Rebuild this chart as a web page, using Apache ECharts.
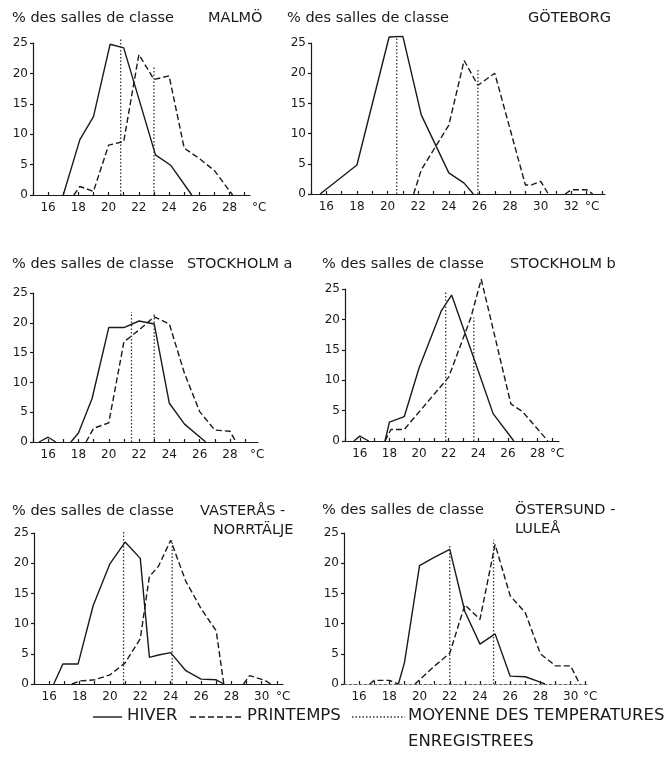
<!DOCTYPE html>
<html><head><meta charset="utf-8">
<script src="https://cdn.jsdelivr.net/npm/echarts/dist/echarts.min.js"></script>
<style>html,body{margin:0;padding:0;background:#fff}#c{width:667px;height:771px}</style>
</head><body><div id="c"></div>
<script>
// ---- DATA: [temperature °C, % des salles de classe] ----
const malmoHiver = [[17.0,0],[18.1,9.1],[19.0,12.9],[20.1,24.8],[21.0,24.2],[23.1,6.6],[24.1,4.9],[25.5,0]];
const malmoPrint = [[17.7,0],[18.1,1.4],[19.0,0.6],[20.0,8.2],[21.0,8.8],[22.0,23.1],[23.0,19.0],[24.0,19.6],[25.0,7.7],[26.0,6.0],[27.0,4.0],[28.2,0]];
const malmoMeans = [[20.8,25.6],[23.0,21.3]];
const malmoXLabels = [16,18,20,22,24,26,28];

const goteHiver = [[15.6,0],[18.0,4.8],[20.1,26.0],[21.0,26.1],[22.2,13.1],[24.0,3.5],[25.0,1.8],[25.6,0]];
const gotePrint = [[21.7,0],[22.2,4.0],[24.0,11.4],[25.0,22.1],[25.9,18.0],[27.0,20.0],[29.0,1.5],[29.4,1.5],[30.0,2.1],[30.5,0],[31.0,'-'],[31.6,0],[32.0,0.7],[33.0,0.7],[33.4,0]];
const goteMeans = [[20.6,26.2],[25.9,20.8]];
const goteXLabels = [16,18,20,22,24,26,28,30,32];

const stoaHiver = [[15.4,0],[16.0,0.8],[16.5,0],[17.0,'-'],[17.5,0],[18.0,1.5],[18.9,7.3],[20.0,19.2],[21.0,19.2],[22.0,20.3],[23.0,19.8],[24.0,6.5],[25.0,3.0],[26.4,0]];
const stoaPrint = [[18.5,0],[19.0,2.3],[20.0,3.2],[21.0,16.8],[22.0,18.8],[23.0,21.0],[24.0,19.8],[25.0,11.5],[26.0,5.1],[27.0,2.0],[28.0,1.8],[28.4,0]];
const stoaMeans = [[21.5,21.8],[23.0,21.5]];
const stoaXLabels = [16,18,20,22,24,26,28];

const stobHiver = [[15.6,0],[16.0,0.8],[16.6,0],[17.0,'-'],[17.7,0],[18.0,3.1],[19.0,4.0],[20.0,12.0],[21.5,21.4],[22.2,24.0],[24.0,11.5],[25.0,4.5],[26.4,0]];
const stobPrint = [[17.7,0],[18.1,1.9],[19.0,1.9],[22.0,10.5],[23.5,20.3],[24.2,26.6],[26.2,6.1],[27.0,4.8],[28.7,0]];
const stobMeans = [[21.8,24.7],[23.7,20.3]];
const stobXLabels = [16,18,20,22,24,26,28];

const vastHiver = [[16.3,0],[16.9,3.3],[17.9,3.3],[18.9,13.0],[20.0,19.9],[21.0,23.5],[22.0,20.8],[22.6,4.4],[23.2,4.8],[24.0,5.2],[25.0,2.2],[26.0,0.8],[27.0,0.7],[27.5,0]];
const vastPrint = [[17.5,0],[18.0,0.5],[19.0,0.7],[20.0,1.5],[21.0,3.5],[22.0,7.5],[22.6,17.8],[23.2,19.5],[24.0,23.8],[25.0,17.0],[26.0,12.5],[27.0,8.8],[27.5,0],[28.0,'-'],[28.8,0],[29.2,1.4],[30.2,0.6],[30.6,0]];
const vastMeans = [[20.9,25.4],[24.1,23.8]];
const vastXLabels = [16,18,20,22,24,26,28,30];

const ostHiver = [[18.6,0],[19.0,3.5],[20.0,19.6],[21.0,21.0],[22.0,22.3],[23.0,12.0],[24.0,6.6],[25.0,8.3],[26.0,1.3],[27.0,1.2],[27.9,0.4],[28.3,0]];
const ostPrint = [[16.7,0],[17.0,0.6],[18.0,0.6],[18.6,0],[19.0,'-'],[19.7,0],[21.0,3.0],[22.0,5.1],[23.0,13.1],[24.0,10.7],[25.0,23.1],[26.0,14.6],[27.0,11.8],[28.0,5.0],[29.0,3.0],[30.0,3.0],[30.6,0]];
const ostMeans = [[22.0,23.1],[24.9,23.9]];
const ostXLabels = [16,18,20,22,24,26,28,30];

const yTicks = [0,5,10,15,20,25];
const yTitle = '% des salles de classe';
const legendNames = ['HIVER','PRINTEMPS','MOYENNE DES TEMPERATURES','ENREGISTREES'];

// ---- LAYOUT ----
const FONT = 'DejaVu Sans';
const INK = '#1a1a1a';
const panels = [
  {city:['MALMÖ'], hiver:malmoHiver, print:malmoPrint, means:malmoMeans, xl:malmoXLabels,
   box:{left:33,top:43,width:217,height:152}, xMax:29.35, nameGap:2, tx:12, ty:20, cx:208},
  {city:['GÖTEBORG'], hiver:goteHiver, print:gotePrint, means:goteMeans, xl:goteXLabels,
   box:{left:311,top:43,width:294,height:151}, xMax:34.2, nameGap:-20, tx:287, ty:20, cx:528},
  {city:['STOCKHOLM a'], hiver:stoaHiver, print:stoaPrint, means:stoaMeans, xl:stoaXLabels,
   box:{left:33,top:293,width:225,height:149}, xMax:29.85, nameGap:-8, tx:12, ty:266, cx:187},
  {city:['STOCKHOLM b'], hiver:stobHiver, print:stobPrint, means:stobMeans, xl:stobXLabels,
   box:{left:345,top:289,width:214,height:152}, xMax:29.45, nameGap:-9, tx:322, ty:266, cx:510},
  {city:['VASTERÅS -','NORRTÄLJE'], hiver:vastHiver, print:vastPrint, means:vastMeans, xl:vastXLabels,
   box:{left:34,top:533,width:249,height:151}, xMax:31.4, nameGap:-7, tx:12, ty:513, cx:200, cx2:213},
  {city:['ÖSTERSUND -','LULEÅ'], hiver:ostHiver, print:ostPrint, means:ostMeans, xl:ostXLabels,
   box:{left:344,top:533,width:244,height:151}, xMax:31.15, nameGap:-5, tx:322, ty:512, cx:515, cx2:515, faintX:true}
];

const grid=[], xAxis=[], yAxis=[], series=[], graphic=[];
panels.forEach((p,i)=>{
  grid.push(Object.assign({containLabel:false}, p.box));
  const ticks=[]; for(let t=15;t<=Math.floor(p.xMax);t++) ticks.push(t);
  xAxis.push({type:'value', gridIndex:i, min:15, max:p.xMax,
    name:'°C', nameLocation:'end', nameGap:p.nameGap,
    nameTextStyle:{fontFamily:FONT,fontSize:12,color:INK,verticalAlign:'top',align:'left',padding:[7,0,0,0]},
    axisLine:{show:true,onZero:false,lineStyle:p.faintX?{color:'#666',width:1.1,type:[3,2]}:{color:INK,width:1.2}},
    axisTick:{show:true,inside:true,length:3,customValues:ticks,lineStyle:{color:INK,width:1.2}},
    axisLabel:{show:true,customValues:p.xl,margin:7,fontFamily:FONT,fontSize:12,color:INK},
    splitLine:{show:false}});
  yAxis.push({type:'value', gridIndex:i, min:0, max:25, interval:5,
    axisLine:{show:true,lineStyle:{color:INK,width:1.2}},
    axisTick:{show:true,length:3,lineStyle:{color:INK,width:1.2}},
    axisLabel:{show:true,margin:5,fontFamily:FONT,fontSize:12,color:INK,customValues:yTicks},
    splitLine:{show:false}});
  series.push({type:'line', name:legendNames[0], xAxisIndex:i, yAxisIndex:i, data:p.hiver,
    symbol:'none', connectNulls:false, silent:true, clip:false,
    lineStyle:{color:INK,width:1.4,type:'solid'}});
  series.push({type:'line', name:legendNames[1], xAxisIndex:i, yAxisIndex:i, data:p.print,
    symbol:'none', connectNulls:false, silent:true, clip:false,
    lineStyle:{color:INK,width:1.4,type:[6,3]}});
  const meanData=[];
  p.means.forEach((m,k)=>{ if(k) meanData.push([m[0],'-']); meanData.push([m[0],0],[m[0],m[1]]); });
  series.push({type:'line', name:legendNames[2], xAxisIndex:i, yAxisIndex:i, data:meanData,
    symbol:'none', connectNulls:false, silent:true, clip:false,
    lineStyle:{color:'#333',width:1.3,type:[1.5,2]}});
  graphic.push({type:'text', left:p.tx, top:p.ty-9, style:{text:yTitle,fontFamily:FONT,fontSize:14.5,fill:INK}});
  graphic.push({type:'text', left:p.cx, top:p.ty-9, style:{text:p.city[0],fontFamily:FONT,fontSize:14.5,fill:INK}});
  if(p.city[1]) graphic.push({type:'text', left:p.cx2, top:p.ty+10, style:{text:p.city[1],fontFamily:FONT,fontSize:14.5,fill:INK}});
});

// legend
const LY = 717;
const LF = 16.5;
graphic.push({type:'line', shape:{x1:93,y1:LY,x2:122,y2:LY}, style:{stroke:INK,lineWidth:1.4}});
graphic.push({type:'text', left:127, top:LY-10, style:{text:legendNames[0],fontFamily:FONT,fontSize:LF,fill:INK}});
graphic.push({type:'line', shape:{x1:190,y1:LY,x2:243,y2:LY}, style:{stroke:INK,lineWidth:1.4,lineDash:[6,3]}});
graphic.push({type:'text', left:247, top:LY-10, style:{text:legendNames[1],fontFamily:FONT,fontSize:LF,fill:INK}});
graphic.push({type:'line', shape:{x1:352,y1:LY,x2:405,y2:LY}, style:{stroke:'#333',lineWidth:1.3,lineDash:[1.5,2]}});
graphic.push({type:'text', left:408, top:LY-10, style:{text:legendNames[2],fontFamily:FONT,fontSize:LF,fill:INK}});
graphic.push({type:'text', left:408, top:LY+16, style:{text:legendNames[3],fontFamily:FONT,fontSize:LF,fill:INK}});

const chart = echarts.init(document.getElementById('c'), null, {renderer:'canvas'});
chart.setOption({backgroundColor:'#fff', animation:false, grid, xAxis, yAxis, series, graphic});
</script></body></html>
